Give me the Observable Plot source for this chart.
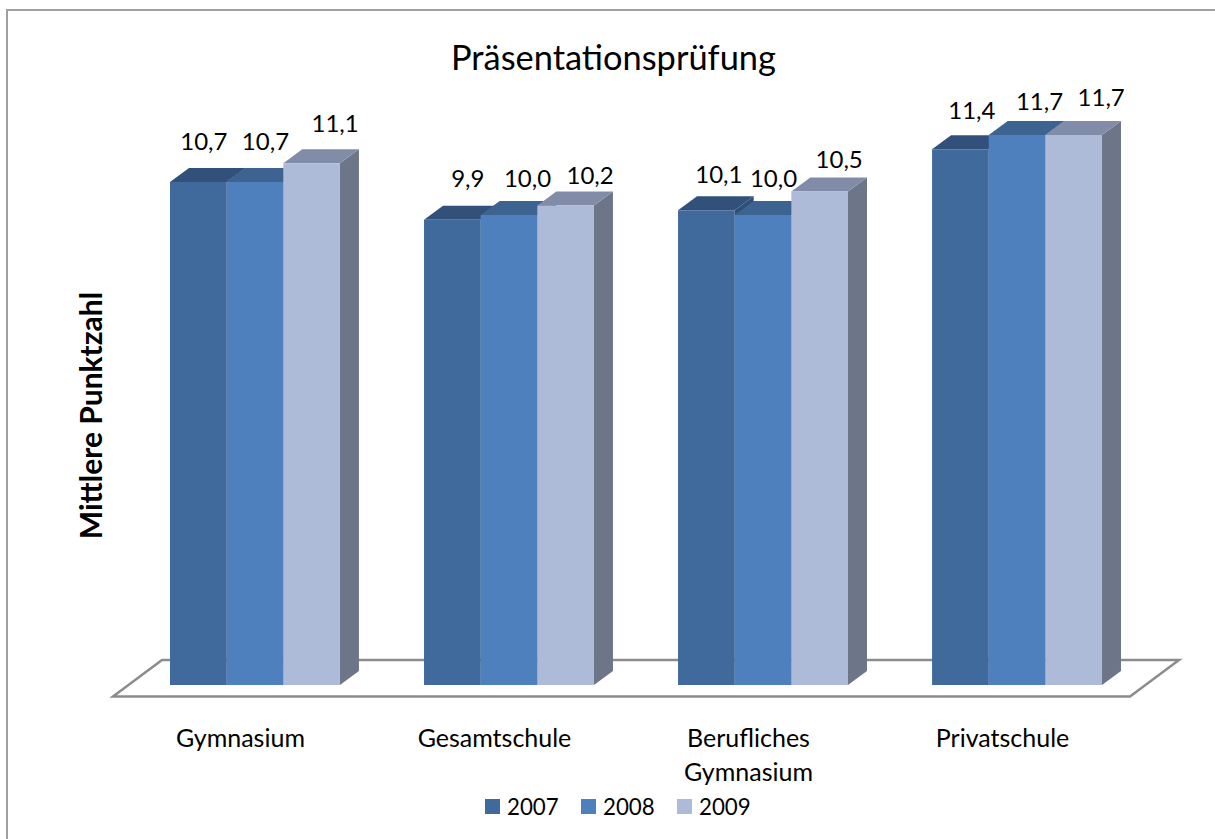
<!DOCTYPE html>
<html lang="de">
<head>
<meta charset="utf-8">
<script src="https://cdn.jsdelivr.net/npm/d3@7"></script>
<script src="https://cdn.jsdelivr.net/npm/@observablehq/plot@0.6"></script>
<style>
  html, body { margin: 0; padding: 0; background: #fff; width: 1215px; height: 839px; overflow: hidden; }
  body { position: relative; font-family: Lato, sans-serif; color: #000; }
  #frame { position: absolute; left: 6px; top: 9px; right: 0; bottom: 0; border-left: 2px solid #a0a0a0; border-top: 2px solid #a0a0a0; box-sizing: border-box; }
  #title { position: relative; height: 80px; padding-left: 451px; padding-top: 36px; box-sizing: border-box; font-size: 34.4px; line-height: 42px; white-space: nowrap; }
  #chart { position: relative; height: 710px; }
  #legend { position: absolute; top: 790px; left: 0; height: 34px; font-size: 22.3px; }
  #legend span { position: absolute; top: 3px; line-height: 28px; }
  #legend i { position: absolute; top: 9px; width: 15px; height: 15px; }
</style>
</head>
<body>
<div id="frame"></div>
<div id="title">Präsentationsprüfung</div>
<div id="chart"></div>
<div id="legend"></div>
<script>
const categories = ["Gymnasium", "Gesamtschule", "Berufliches\nGymnasium", "Privatschule"];
const years = ["2007", "2008", "2009"];
const values2007 = [10.7, 9.9, 10.1, 11.4];
const values2008 = [10.7, 10.0, 10.0, 11.7];
const values2009 = [11.1, 10.2, 10.5, 11.7];
const seriesValues = [values2007, values2008, values2009];

// Styling tables
const faceColors = {
  "2007": {front: "#40699c", top: "#31517b", side: "#304e76"},
  "2008": {front: "#4e80bd", top: "#3d6491", side: "#3a5f8c"},
  "2009": {front: "#adbbd9", top: "#818da8", side: "#6c7688"}
};
const labelNudges = [
  [[5, -40], [10, -40], [23, -39]],
  [[15, -41], [18, -36], [24, -30]],
  [[12, -35], [10, -36], [19, -32]],
  [[11, -38], [22, -33], [27, -37]]
];
const depthX = 19, depthY = 14;

const rows = categories.flatMap((category, c) =>
  years.map((year, s) => ({category, year, value: seriesValues[s][c], c, s}))
);
const commaFormat = (v) => v.toFixed(1).replace(".", ",");

// Bars with side, top and front faces, painted left to right
function render3d(index, scales, values, dimensions, context) {
  const g = d3.create("svg:g");
  for (const i of index) {
    const d = rows[i];
    const colors = faceColors[d.year];
    const x0 = values.x[i], x1 = x0 + scales.x.bandwidth();
    const yTop = values.y2[i], yBase = values.y1[i];
    const poly = (pts, fill) => g.append("polygon").attr("points", pts.map((p) => p.join(",")).join(" ")).attr("fill", fill);
    poly([[x1, yTop], [x1 + depthX, yTop - depthY], [x1 + depthX, yBase - depthY], [x1, yBase]], colors.side);
    poly([[x0, yTop], [x0 + depthX, yTop - depthY], [x1 + depthX, yTop - depthY], [x1, yTop]], colors.top);
    poly([[x0, yTop], [x1, yTop], [x1, yBase], [x0, yBase]], colors.front);
  }
  return g.node();
}

// Floor plate around the baseline of the plot
function renderFloor(index, scales, values, dimensions) {
  const base = scales.y(0);
  const left = dimensions.marginLeft, right = dimensions.width - dimensions.marginRight;
  const pts = [[left - 57, base + 11.5], [right + 28, base + 11.5], [right + 77, base - 25], [left - 8, base - 25]];
  return d3.create("svg:polygon")
    .attr("points", pts.map((p) => p.join(",")).join(" "))
    .attr("fill", "none").attr("stroke", "#8c8c8c").attr("stroke-width", 2.5)
    .node();
}

const plot = Plot.plot({
  width: 1215,
  height: 710,
  marginLeft: 170,
  marginRight: 113,
  marginTop: 41,
  marginBottom: 105,
  style: {background: "transparent", fontFamily: "Lato, sans-serif", overflow: "visible"},
  x: {domain: years, padding: 0, round: false, axis: null},
  y: {domain: [0, 12], axis: null},
  fx: {domain: categories, padding: 0.331, round: false, align: 0, label: null},
  marks: [
    Plot.frame({facet: "super", stroke: "none", render: renderFloor}),
    Plot.barY(rows, {fx: "category", x: "year", y: "value", render: render3d}),
    ...rows.map((d) => Plot.text([d], {
      fx: "category", x: "year", y: "value",
      text: (r) => commaFormat(r.value),
      fontSize: 24,
      fill: "#000",
      dx: labelNudges[d.c][d.s][0],
      dy: labelNudges[d.c][d.s][1]
    })),
    Plot.axisFx({
      anchor: "bottom",
      tickSize: 0,
      tickPadding: 0,
      label: null,
      fontSize: 25,
      lineHeight: 1.34,
      lineAnchor: "top",
      dx: -15,
      dy: 38
    }),
    Plot.text(["Mittlere Punktzahl"], {
      facet: "super",
      frameAnchor: "left",
      textAnchor: "middle",
      rotate: -90,
      dx: -78,
      dy: 12,
      fontSize: 30,
      fontWeight: "bold",
      fill: "#000"
    })
  ]
});
document.getElementById("chart").appendChild(plot);

const legendEl = document.getElementById("legend");
[485, 581, 677].forEach((left, i) => {
  const swatch = document.createElement("i");
  swatch.style.left = left + "px";
  swatch.style.background = faceColors[years[i]].front;
  legendEl.appendChild(swatch);
  const label = document.createElement("span");
  label.style.left = (left + 22) + "px";
  label.textContent = years[i];
  legendEl.appendChild(label);
});
</script>
</body>
</html>
